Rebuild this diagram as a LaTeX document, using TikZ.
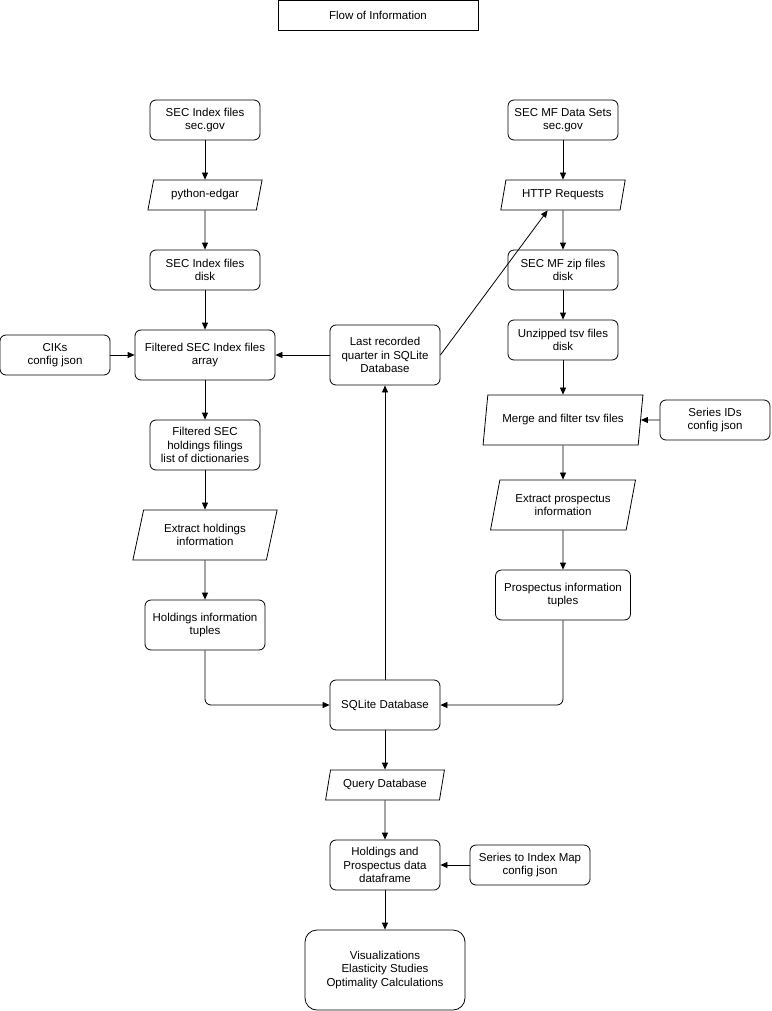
\documentclass[tikz,border=0pt]{standalone}
\usepackage{fontspec}
\setmainfont{Liberation Sans}
\usetikzlibrary{shapes.geometric,arrows.meta}

\tikzset{
    box/.style={draw, rounded corners=6pt, align=center, inner sep=1pt},
    para/.style={draw, trapezium, trapezium left angle=73, trapezium right angle=107,
        trapezium stretches=true, align=center, inner sep=1pt},
    flow/.style={-{Triangle[length=7pt,width=6pt]}}
}

\begin{document}
\begin{tikzpicture}[x=1pt, y=-1pt, line width=0.8pt, font=\fontsize{11.5}{13.5}\selectfont]
    \useasboundingbox (0,0) rectangle (771,1011);

    \node[draw, minimum width=200, minimum height=30] (title) at (378,15) {Flow of Information};

    % left column
    \node[box, minimum width=110, minimum height=40] (idxweb) at (205,120) {SEC Index files\\sec.gov};
    \node[para, minimum width=115, minimum height=30] (pyedgar) at (205,195) {python-edgar};
    \node[box, minimum width=110, minimum height=40] (idxdisk) at (205,270) {SEC Index files\\disk};
    \node[box, minimum width=110, minimum height=40] (ciks) at (55,355) {CIKs\\config json};
    \node[box, minimum width=140, minimum height=50] (filtidx) at (205,355) {Filtered SEC Index files\\array};
    \node[box, minimum width=110, minimum height=50] (filings) at (205,445) {Filtered SEC\\holdings filings\\list of dictionaries};
    \node[para, minimum width=145, minimum height=50] (exthold) at (205,535) {Extract holdings\\information};
    \node[box, minimum width=120, minimum height=50] (holdtup) at (205,625) {Holdings information\\tuples};

    % middle column
    \node[box, minimum width=110, minimum height=60] (lastq) at (385,355) {Last recorded\\quarter in SQLite\\Database};
    \node[box, minimum width=110, minimum height=50] (sqlite) at (385,705) {SQLite Database};
    \node[para, minimum width=120, minimum height=30] (query) at (385,785) {Query Database};
    \node[box, minimum width=110, minimum height=50] (frame) at (385,865) {Holdings and\\Prospectus data\\dataframe};
    \node[box, minimum width=120, minimum height=40] (idxmap) at (530,865) {Series to Index Map\\config json};
    \node[box, minimum width=160, minimum height=80, rounded corners=12pt] (studies) at (385,970) {Visualizations\\Elasticity Studies\\Optimality Calculations};

    % right column
    \node[box, minimum width=110, minimum height=40] (mfweb) at (563,120) {SEC MF Data Sets\\sec.gov};
    \node[para, minimum width=125, minimum height=30] (http) at (563,195) {HTTP Requests};
    \node[box, minimum width=110, minimum height=40] (mfzip) at (563,270) {SEC MF zip files\\disk};
    \node[box, minimum width=110, minimum height=40] (tsv) at (563,340) {Unzipped tsv files\\disk};
    \node[para, minimum width=160, minimum height=50] (merge) at (563,420) {Merge and filter tsv files};
    \node[box, minimum width=110, minimum height=40] (seriesid) at (715,420) {Series IDs\\config json};
    \node[para, minimum width=145, minimum height=50] (extpro) at (563,505) {Extract prospectus\\information};
    \node[box, minimum width=135, minimum height=50] (protup) at (563,595) {Prospectus information\\tuples};

    \draw[flow] (idxweb) -- (pyedgar);
    \draw[flow] (pyedgar) -- (idxdisk);
    \draw[flow] (idxdisk) -- (filtidx);
    \draw[flow] (ciks) -- (filtidx);
    \draw[flow] (filtidx) -- (filings);
    \draw[flow] (filings) -- (exthold);
    \draw[flow] (exthold) -- (holdtup);
    \draw[flow, rounded corners=6pt] (holdtup.south) |- (sqlite.west);

    \draw[flow] (lastq) -- (filtidx);
    \draw[flow] (lastq.east) -- (http.south west);
    \draw[flow] (sqlite) -- (lastq);
    \draw[flow] (sqlite) -- (query);
    \draw[flow] (query) -- (frame);
    \draw[flow] (idxmap) -- (frame);
    \draw[flow] (frame) -- (studies);

    \draw[flow] (mfweb) -- (http);
    \draw[flow] (http) -- (mfzip);
    \draw[flow] (mfzip) -- (tsv);
    \draw[flow] (tsv) -- (merge);
    \draw[flow] (seriesid) -- (merge);
    \draw[flow] (merge) -- (extpro);
    \draw[flow] (extpro) -- (protup);
    \draw[flow, rounded corners=6pt] (protup.south) |- (sqlite.east);
\end{tikzpicture}
\end{document}
